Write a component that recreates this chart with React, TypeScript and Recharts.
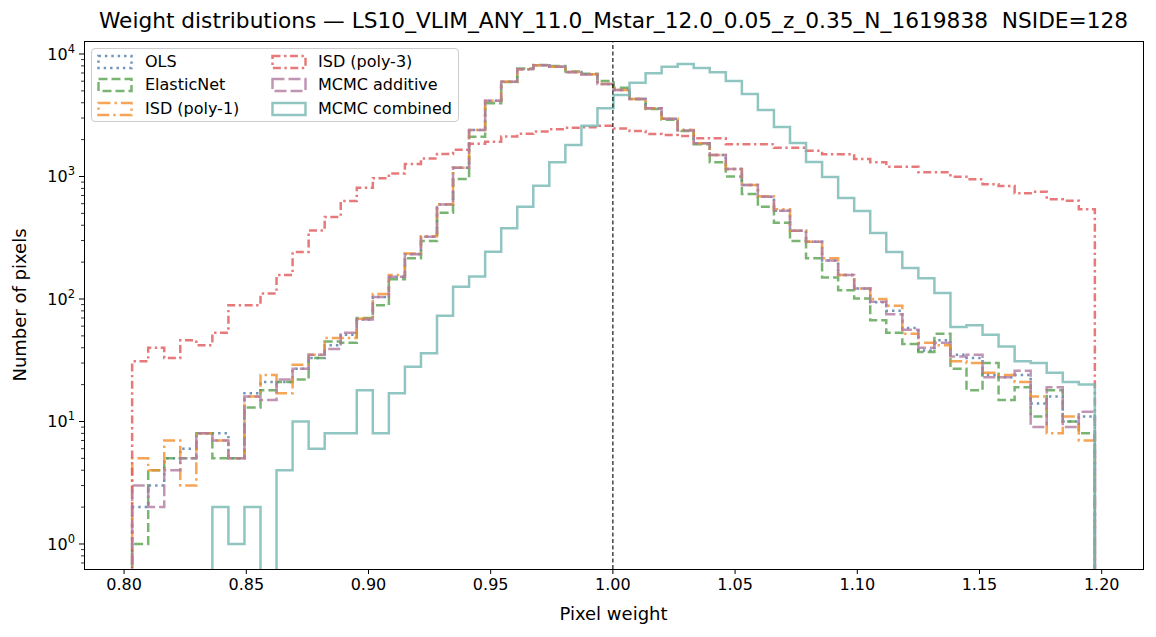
import { LineChart, Line, XAxis, YAxis, ReferenceLine } from 'recharts'

// histogram bins (60 equal bins over the data range)
const BIN_LO = 0.8033
const BIN_HI = 1.1972
const N_BINS = 60

// counts per bin
const OLS = [
  2, 3, 5, 6, 8, 8, 5, 17, 21, 21,
  27, 33, 42, 51, 68, 104, 152, 233, 323, 590,
  1180, 2400, 4160, 5940, 7500, 8090, 7880, 7120, 6830, 5700,
  5080, 4300, 3600, 2960, 2400, 1870, 1500, 1150, 853, 684,
  526, 361, 294, 206, 157, 122, 94, 80, 58, 38,
  46, 35, 33, 24, 23, 24, 14, 16, 10, 11,
]
const ELASTIC_NET = [
  1, 4, 5, 5, 8, 5, 5, 13, 18, 21,
  22, 33, 45, 44, 70, 89, 145, 215, 297, 505,
  955, 2113, 3960, 5900, 7600, 8150, 8000, 7200, 6900, 6030,
  5300, 4300, 3550, 2900, 2350, 1830, 1306, 1000, 720, 567,
  420, 297, 215, 150, 118, 101, 67, 53, 43, 37,
  52, 27, 18, 30, 15, 19, 11, 18, 10, 8,
]
const ISD_POLY1 = [
  5, 4, 7, 3, 8, 7, 5, 16, 24, 17,
  29, 35, 48, 48, 69, 110, 157, 235, 325, 593,
  1180, 2400, 4160, 5940, 7500, 8090, 7880, 7120, 6830, 5700,
  5080, 4300, 3600, 2960, 2400, 1870, 1500, 1150, 853, 690,
  540, 361, 294, 215, 157, 122, 100, 88, 52, 44,
  42, 31, 30, 25, 24, 21, 16, 8, 11, 7,
]
const ISD_POLY3 = [
  31, 40, 33, 46, 42, 53, 89, 89, 111, 157,
  242, 363, 468, 632, 810, 970, 1060, 1265, 1400, 1530,
  1650, 1850, 1924, 2120, 2230, 2330, 2430, 2500, 2520, 2600,
  2470, 2350, 2220, 2180, 2140, 2050, 2050, 1833, 1833, 1833,
  1718, 1718, 1625, 1517, 1517, 1390, 1306, 1203, 1203, 1082,
  1082, 997, 948, 863, 836, 729, 751, 652, 635, 540,
]
const MCMC_ADDITIVE = [
  3, 2, 4, 5, 8, 7, 5, 16, 15, 22,
  27, 35, 39, 53, 68, 104, 152, 232, 323, 590,
  1180, 2400, 4160, 5940, 7500, 8090, 7880, 7100, 6800, 5700,
  5080, 4300, 3600, 2960, 2380, 1870, 1500, 1150, 853, 684,
  526, 361, 294, 206, 157, 122, 95, 75, 56, 40,
  44, 34, 35, 23, 23, 26, 9, 19, 9, 12,
]
const MCMC_COMBINED = [
  0, 0, 0, 0, 0, 2, 1, 2, 0, 4,
  10, 6, 8, 8, 18, 8, 17, 28, 36, 73,
  126, 153, 243, 378, 567, 841, 1306, 1807, 2600, 3604,
  4625, 5830, 6950, 7875, 8300, 7690, 7090, 6020, 4710, 3490,
  2540, 1877, 1313, 991, 667, 523, 346, 242, 179, 148,
  112, 59, 61, 51, 41, 31, 30, 25, 21, 20,
]

const X_TICKS = [0.8, 0.85, 0.9, 0.95, 1.0, 1.05, 1.1, 1.15, 1.2]
const Y_TICKS = [
  0.7, 0.8, 0.9,
  1, 2, 3, 4, 5, 6, 7, 8, 9,
  10, 20, 30, 40, 50, 60, 70, 80, 90,
  100, 200, 300, 400, 500, 600, 700, 800, 900,
  1000, 2000, 3000, 4000, 5000, 6000, 7000, 8000, 9000,
  10000,
]

const SERIES = [
  { key: 'ols', name: 'OLS', values: OLS, color: '#4e79a7', dash: '2.4 4' },
  { key: 'enet', name: 'ElasticNet', values: ELASTIC_NET, color: '#59a14f', dash: '9 4' },
  { key: 'isd1', name: 'ISD (poly-1)', values: ISD_POLY1, color: '#f28e2b', dash: '12 4 2.4 4' },
  { key: 'isd3', name: 'ISD (poly-3)', values: ISD_POLY3, color: '#e15759', dash: '8 3.5 2.4 3.5' },
  { key: 'mcmcAdd', name: 'MCMC additive', values: MCMC_ADDITIVE, color: '#b07aa1', dash: '12 4' },
  { key: 'mcmcComb', name: 'MCMC combined', values: MCMC_COMBINED, color: '#76b7b2', dash: undefined },
]

const FONT = 'DejaVu Sans, sans-serif'
const LW = 2.5
const FLOOR = 0.01 // zero counts fall below the log axis and get clipped

// plot box in page pixels
const W = 1156
const H = 637
const PLOT_L = 84
const PLOT_R = 1143
const PLOT_T = 41
const PLOT_B = 569
const TICK_SIZE = 5
const TICK_MARGIN = 4

// step outline like matplotlib histtype='step'
const width = (BIN_HI - BIN_LO) / N_BINS
const edges = Array.from({ length: N_BINS + 1 }, (_, i) => BIN_LO + i * width)
const floorRow = (x: number) => {
  const row: Record<string, number> = { x }
  SERIES.forEach((s) => (row[s.key] = FLOOR))
  return row
}
const chartData: Record<string, number>[] = [floorRow(edges[0])]
for (let i = 0; i <= N_BINS; i++) {
  const row: Record<string, number> = { x: edges[i] }
  const b = Math.min(i, N_BINS - 1)
  SERIES.forEach((s) => (row[s.key] = s.values[b] > 0 ? s.values[b] : FLOOR))
  chartData.push(row)
}
chartData.push(floorRow(edges[N_BINS]))

function YTick(props: any) {
  const { x, y, payload } = props
  const v = payload.value as number
  const exp = Math.log10(v)
  const major = Math.abs(exp - Math.round(exp)) < 1e-9
  const axisX = x + TICK_SIZE + TICK_MARGIN
  return (
    <g>
      <line
        x1={axisX - (major ? 5 : 3)}
        x2={axisX}
        y1={y}
        y2={y}
        stroke="#000"
        strokeWidth={major ? 1 : 0.8}
      />
      {major && (
        <text
          x={axisX - 9}
          y={y}
          dy="0.36em"
          textAnchor="end"
          fontSize={16}
          fontFamily={FONT}
          fill="#000"
        >
          10
          <tspan dy={-7} fontSize={11.5}>
            {Math.round(exp)}
          </tspan>
        </text>
      )}
    </g>
  )
}

function LegendBox() {
  const col = [
    { handle: 97, text: 144 },
    { handle: 271, text: 317 },
  ]
  const rowsY = [61, 84, 108]
  return (
    <div
      style={{
        position: 'absolute',
        left: 91,
        top: 48,
        width: 368,
        height: 74,
        boxSizing: 'border-box',
        border: '1px solid #cccccc',
        borderRadius: 4,
        background: 'rgba(255,255,255,0.8)',
      }}
    >
      {SERIES.map((s, i) => {
        const c = col[Math.floor(i / 3)]
        const cy = rowsY[i % 3]
        return (
          <div key={s.key}>
            <svg
              width={36}
              height={16}
              style={{ position: 'absolute', left: c.handle - 91 - 1, top: cy - 48 - 8 }}
            >
              <rect
                x={1.5}
                y={2}
                width={33}
                height={12}
                fill="none"
                stroke={s.color}
                strokeOpacity={0.8}
                strokeWidth={LW}
                strokeDasharray={s.dash}
              />
            </svg>
            <div
              style={{
                position: 'absolute',
                left: c.text - 91,
                top: cy - 48 - 10,
                fontFamily: FONT,
                fontSize: 16,
                lineHeight: '20px',
                whiteSpace: 'nowrap',
                color: '#000',
              }}
            >
              {s.name}
            </div>
          </div>
        )
      })}
    </div>
  )
}

export default function App() {
  return (
    <div style={{ position: 'absolute', left: 0, top: 0, width: W, height: H, background: '#fff' }}>
      <LineChart
        width={W}
        height={H}
        data={chartData}
        margin={{ top: PLOT_T, right: W - PLOT_R, left: 0, bottom: 0 }}
      >
        <XAxis
          dataKey="x"
          type="number"
          domain={[0.7836, 1.2169]}
          allowDataOverflow
          ticks={X_TICKS}
          interval={0}
          tickFormatter={(v: number) => v.toFixed(2)}
          height={H - PLOT_B}
          tickSize={TICK_SIZE}
          tickMargin={5}
          axisLine={false}
          tickLine={{ stroke: '#000' }}
          tick={{ fill: '#000', fontSize: 16, fontFamily: FONT }}
        />
        <YAxis
          type="number"
          scale="log"
          domain={[0.625, 12770]}
          allowDataOverflow
          ticks={Y_TICKS}
          interval={0}
          width={PLOT_L}
          tickSize={TICK_SIZE}
          tickMargin={TICK_MARGIN}
          axisLine={false}
          tickLine={false}
          tick={<YTick />}
        />
        {SERIES.map((s) => (
          <Line
            key={s.key}
            dataKey={s.key}
            name={s.name}
            type="stepAfter"
            stroke={s.color}
            strokeOpacity={0.8}
            strokeWidth={LW}
            strokeDasharray={s.dash}
            dot={false}
            activeDot={false}
            isAnimationActive={false}
          />
        ))}
        <ReferenceLine x={1.0} stroke="#000" strokeWidth={1.1} strokeDasharray="4 2.5" />
      </LineChart>

      {/* axes frame */}
      <div
        style={{
          position: 'absolute',
          left: PLOT_L,
          top: PLOT_T,
          width: PLOT_R - PLOT_L + 1,
          height: PLOT_B - PLOT_T + 1,
          boxSizing: 'border-box',
          border: '1px solid #000',
          pointerEvents: 'none',
        }}
      />

      <LegendBox />

      <div
        style={{
          position: 'absolute',
          left: (PLOT_L + PLOT_R) / 2,
          top: 8,
          transform: 'translateX(-50%)',
          fontFamily: FONT,
          fontSize: 21.7,
          lineHeight: '26px',
          whiteSpace: 'nowrap',
          color: '#000',
        }}
      >
        Weight distributions — LS10_VLIM_ANY_11.0_Mstar_12.0_0.05_z_0.35_N_1619838&nbsp;&nbsp;NSIDE=128
      </div>
      <div
        style={{
          position: 'absolute',
          left: (PLOT_L + PLOT_R) / 2,
          top: 603,
          transform: 'translateX(-50%)',
          fontFamily: FONT,
          fontSize: 18,
          lineHeight: '22px',
          whiteSpace: 'nowrap',
          color: '#000',
        }}
      >
        Pixel weight
      </div>
      <div
        style={{
          position: 'absolute',
          left: 20,
          top: (PLOT_T + PLOT_B) / 2,
          transform: 'translate(-50%, -50%) rotate(-90deg)',
          fontFamily: FONT,
          fontSize: 18,
          lineHeight: '22px',
          whiteSpace: 'nowrap',
          color: '#000',
        }}
      >
        Number of pixels
      </div>
    </div>
  )
}
